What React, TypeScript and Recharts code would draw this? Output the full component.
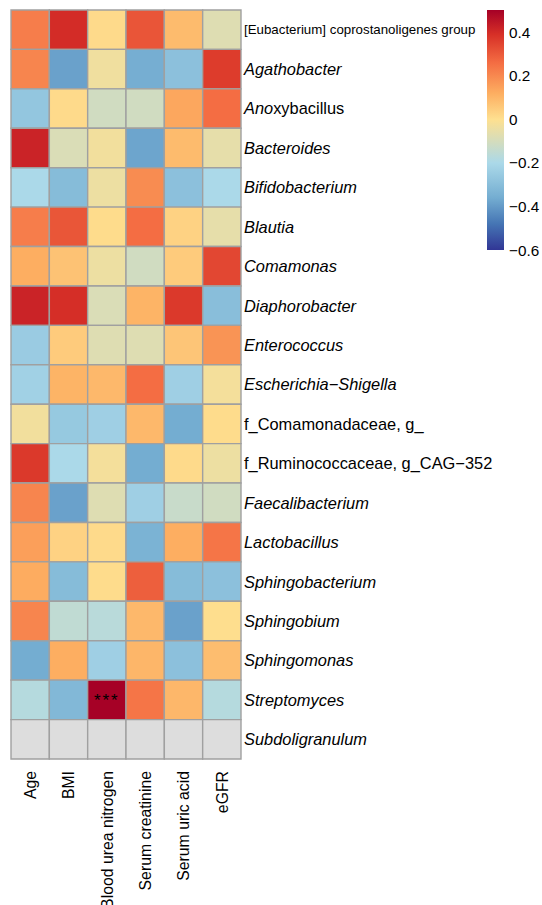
import React from 'react';
import { ScatterChart, Scatter, XAxis, YAxis, ReferenceArea, Customized } from 'recharts';

const variables = ['Age', 'BMI', 'Blood urea nitrogen', 'Serum creatinine', 'Serum uric acid', 'eGFR'];

const taxa = [
  '[Eubacterium] coprostanoligenes group',
  'Agathobacter',
  'Anoxybacillus',
  'Bacteroides',
  'Bifidobacterium',
  'Blautia',
  'Comamonas',
  'Diaphorobacter',
  'Enterococcus',
  'Escherichia−Shigella',
  'f_Comamonadaceae, g_',
  'f_Ruminococcaceae, g_CAG−352',
  'Faecalibacterium',
  'Lactobacillus',
  'Sphingobacterium',
  'Sphingobium',
  'Sphingomonas',
  'Streptomyces',
  'Subdoligranulum',
];

const uprightTaxa = ['[Eubacterium] coprostanoligenes group', 'f_Comamonadaceae, g_', 'f_Ruminococcaceae, g_CAG−352'];

const correlations: (number | null)[][] = [
  [0.225, 0.40, 0.014, 0.311, 0.089, -0.077],
  [0.208, -0.385, -0.034, -0.355, -0.29, 0.365],
  [-0.27, 0.014, -0.11, -0.11, 0.135, 0.26],
  [0.42, -0.087, -0.03, -0.378, 0.089, -0.058],
  [-0.2, -0.307, -0.04, 0.193, -0.29, -0.2],
  [0.225, 0.31, 0.01, 0.26, 0.033, -0.058],
  [0.12, 0.072, -0.04, -0.11, 0.05, 0.34],
  [0.42, 0.395, -0.087, 0.106, 0.37, -0.3],
  [-0.25, 0.05, -0.077, -0.077, 0.065, 0.176],
  [-0.23, 0.106, 0.095, 0.26, -0.236, -0.025],
  [-0.03, -0.26, -0.236, 0.095, -0.36, 0.01],
  [0.37, -0.2, -0.025, -0.36, 0.014, -0.04],
  [0.208, -0.385, -0.077, -0.236, -0.13, -0.11],
  [0.152, 0.033, 0.014, -0.34, 0.12, 0.243],
  [0.125, -0.307, 0.01, 0.29, -0.307, -0.29],
  [0.208, -0.15, -0.166, 0.095, -0.385, 0.004],
  [-0.36, 0.12, -0.236, 0.1, -0.29, 0.083],
  [-0.176, -0.32, 0.5, 0.243, 0.098, -0.176],
  [null, null, null, null, null, null],
];

const significance = [{ row: 17, col: 2, label: '***' }];

const legendTicks = [0.4, 0.2, 0, -0.2, -0.4, -0.6];
const legendMin = -0.6;
const legendMax = 0.503;

const paletteStops: [number, string][] = [
  [-0.6, '#313695'],
  [-0.48, '#4575B4'],
  [-0.36, '#74ADD1'],
  [-0.2, '#ABD9E9'],
  [0, '#FEE090'],
  [0.12, '#FDAE61'],
  [0.26, '#F46D43'],
  [0.39, '#D73027'],
  [0.503, '#A50026'],
];

const hexToRgb = (h: string) => [1, 3, 5].map((i) => parseInt(h.slice(i, i + 2), 16));

function colorFor(v: number | null): string {
  if (v === null) return '#DDDDDD';
  const s = paletteStops;
  if (v <= s[0][0]) return s[0][1];
  if (v >= s[s.length - 1][0]) return s[s.length - 1][1];
  for (let i = 0; i < s.length - 1; i++) {
    const [v0, c0] = s[i];
    const [v1, c1] = s[i + 1];
    if (v >= v0 && v <= v1) {
      const t = (v - v0) / (v1 - v0);
      const a = hexToRgb(c0);
      const b = hexToRgb(c1);
      const m = a.map((x, k) => Math.round(x + (b[k] - x) * t));
      return `rgb(${m[0]},${m[1]},${m[2]})`;
    }
  }
  return '#DDDDDD';
}

const FONT = '"Liberation Sans", Arial, Helvetica, sans-serif';

const cellPoints = correlations.flatMap((row, r) => row.map((v, c) => ({ x: c + 0.5, y: r + 0.5, v })));

const RowTick = (props: any) => {
  const { x, y, payload } = props;
  const name = taxa[Math.floor(payload.value)];
  if (!name) return null;
  const upright = uprightTaxa.includes(name);
  const small = name.startsWith('[Eubacterium]');
  if (name === 'Anoxybacillus') {
    return (
      <text x={x} y={y} dy="0.36em" fontSize={16.4} fontFamily={FONT} fill="#000" textAnchor="start">
        <tspan fontStyle="italic">Ano</tspan>
        <tspan>xybacillus</tspan>
      </text>
    );
  }
  return (
    <text
      x={x}
      y={y}
      dy="0.36em"
      fontSize={small ? 13.3 : 16.4}
      fontStyle={upright ? 'normal' : 'italic'}
      fontFamily={FONT}
      fill="#000"
      textAnchor="start"
    >
      {name}
    </text>
  );
};

const ColTick = (props: any) => {
  const { x, y, payload } = props;
  const name = variables[Math.floor(payload.value)];
  if (!name) return null;
  return (
    <text
      x={x}
      y={y}
      dy="0.36em"
      transform={`rotate(-90, ${x}, ${y})`}
      fontSize={15.8}
      fontFamily={FONT}
      fill="#000"
      textAnchor="end"
    >
      {name}
    </text>
  );
};

const ColorBar = () => {
  const top = 10;
  const bottom = 250;
  const left = 487;
  const w = 17;
  const yOf = (v: number) => top + ((legendMax - v) / (legendMax - legendMin)) * (bottom - top);
  return (
    <g>
      <defs>
        <linearGradient id="cbar" x1="0" y1="1" x2="0" y2="0">
          {paletteStops.map(([v, c]) => (
            <stop key={v} offset={`${((v - legendMin) / (legendMax - legendMin)) * 100}%`} stopColor={c} />
          ))}
        </linearGradient>
      </defs>
      <rect x={left} y={top} width={w} height={bottom - top} fill="url(#cbar)" />
      {legendTicks.map((t) => (
        <text
          key={t}
          x={left + w + 5}
          y={yOf(t)}
          dy="0.36em"
          fontSize={15.3}
          fontFamily={FONT}
          fill="#000"
        >
          {t < 0 ? `−${Math.abs(t)}` : `${t}`}
        </text>
      ))}
    </g>
  );
};

export default function App() {
  return (
    <div style={{ position: 'absolute', left: 0, top: 0, background: '#fff' }}>
      <ScatterChart width={542} height={905} margin={{ top: 10, left: 11, right: 11, bottom: 6 }}>
        <XAxis
          type="number"
          dataKey="x"
          domain={[0, variables.length]}
          ticks={variables.map((_, i) => i + 0.5)}
          interval={0}
          allowDataOverflow
          axisLine={false}
          tickLine={false}
          tickSize={0}
          tickMargin={12}
          height={140}
          tick={<ColTick />}
        />
        <YAxis
          type="number"
          dataKey="y"
          orientation="right"
          reversed
          domain={[0, taxa.length]}
          ticks={taxa.map((_, i) => i + 0.5)}
          interval={0}
          allowDataOverflow
          axisLine={false}
          tickLine={false}
          tickSize={0}
          tickMargin={3}
          width={290}
          tick={<RowTick />}
        />
        <Scatter data={cellPoints} isAnimationActive={false} shape={() => <g />} />
        {correlations.map((row, r) =>
          row.map((v, c) => (
            <ReferenceArea
              key={`${r}-${c}`}
              x1={c}
              x2={c + 1}
              y1={r}
              y2={r + 1}
              fill={colorFor(v)}
              fillOpacity={1}
              stroke="#A0A0A0"
              strokeWidth={1.4}
              ifOverflow="visible"
            />
          ))
        )}
        {significance.map((s) => (
          <ReferenceArea
            key={`sig-${s.row}-${s.col}`}
            x1={s.col}
            x2={s.col + 1}
            y1={s.row}
            y2={s.row + 1}
            fillOpacity={0}
            strokeOpacity={0}
            ifOverflow="visible"
            label={{ value: s.label, position: 'center', fill: '#000', fontSize: 17, letterSpacing: 2, fontFamily: FONT }}
          />
        ))}
        <Customized component={ColorBar} />
      </ScatterChart>
    </div>
  );
}
